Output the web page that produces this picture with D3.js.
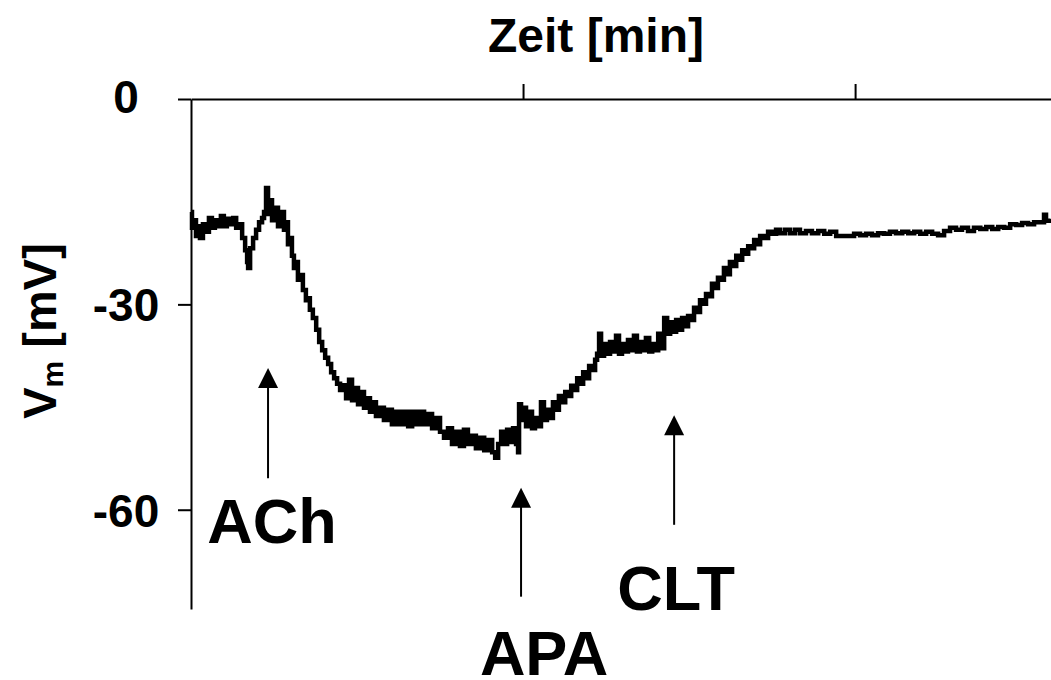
<!DOCTYPE html>
<meta charset="utf-8">
<style>
  body { margin: 0; background: #fff; }
  svg text { font-family: Arial, "Liberation Sans", sans-serif; font-weight: bold; fill: #000; }
  .axis path, .axis line { stroke: #000; stroke-width: 2; }
  .trace { fill: none; stroke: #000; stroke-width: 4.5; stroke-linejoin: miter; }
</style>
<body>
<div id="chart"></div>
<script src="https://d3js.org/d3.v7.min.js"></script>
<script>
// recording, time in min, membrane potential in mV
var time = [0, 0.03, 0.09, 0.15, 0.21, 0.27, 0.36, 0.45, 0.54, 0.63, 0.72, 0.81, 0.90, 0.99, 1.08, 1.17, 1.27, 1.36, 1.45, 1.54,
  1.63, 1.69, 1.72, 1.78, 1.87, 1.96, 2.05, 2.14, 2.20, 2.26, 2.32, 2.38, 2.44, 2.53, 2.62, 2.71, 2.80, 2.86, 2.92, 2.98,
  3.04, 3.10, 3.16, 3.22, 3.28, 3.37, 3.46, 3.52, 3.58, 3.67, 3.77, 3.86, 3.95, 4.04, 4.13, 4.22, 4.31, 4.40, 4.49, 4.58,
  4.67, 4.76, 4.85, 4.94, 5.03, 5.12, 5.21, 5.30, 5.39, 5.48, 5.57, 5.69, 5.81, 5.93, 6.05, 6.17, 6.30, 6.42, 6.54, 6.66,
  6.78, 6.90, 7.02, 7.14, 7.26, 7.38, 7.50, 7.62, 7.74, 7.86, 7.98, 8.10, 8.22, 8.34, 8.46, 8.58, 8.70, 8.83, 8.95, 9.07,
  9.16, 9.25, 9.34, 9.43, 9.52, 9.61, 9.70, 9.79, 9.85, 9.88, 9.94, 10.00, 10.09, 10.18, 10.27, 10.36, 10.45, 10.54, 10.63, 10.72,
  10.81, 10.90, 10.99, 11.08, 11.17, 11.27, 11.36, 11.45, 11.54, 11.63, 11.72, 11.81, 11.90, 11.99, 12.08, 12.17, 12.23, 12.29, 12.35, 12.44,
  12.53, 12.62, 12.71, 12.80, 12.89, 12.98, 13.07, 13.16, 13.25, 13.34, 13.43, 13.52, 13.61, 13.70, 13.80, 13.89, 13.98, 14.07, 14.16, 14.25,
  14.34, 14.43, 14.52, 14.61, 14.70, 14.79, 14.88, 14.97, 15.06, 15.15, 15.24, 15.33, 15.42, 15.51, 15.60, 15.69, 15.78, 15.87, 15.96, 16.05,
  16.14, 16.23, 16.33, 16.42, 16.51, 16.60, 16.69, 16.78, 16.87, 16.96, 17.05, 17.14, 17.26, 17.38, 17.50, 17.62, 17.74, 17.89, 18.04, 18.19,
  18.34, 18.52, 18.70, 18.89, 19.07, 19.25, 19.43, 19.61, 19.79, 19.97, 20.15, 20.33, 20.51, 20.69, 20.87, 21.05, 21.23, 21.42, 21.60, 21.78,
  21.96, 22.14, 22.32, 22.50, 22.68, 22.86, 23.04, 23.22, 23.40, 23.58, 23.77, 23.95, 24.13, 24.31, 24.49, 24.67, 24.85, 25.03, 25.21, 25.39,
  25.57, 25.69, 25.75, 25.87];
var vm = [-16.5, -18.8, -17.7, -20.0, -18.6, -20.3, -18.3, -19.4, -17.4, -18.8, -17.7, -18.6, -17.1, -18.6, -17.5, -18.3, -17.4, -18.8, -18.3, -20.3,
  -22.1, -23.8, -24.7, -21.8, -20.3, -19.1, -18.0, -17.4, -16.5, -13.0, -16.8, -14.8, -17.7, -15.9, -18.6, -16.5, -19.1, -18.0, -21.2, -20.3,
  -22.9, -24.7, -23.8, -26.4, -25.7, -27.9, -29.4, -29.1, -30.8, -32.0, -33.7, -35.5, -36.7, -37.8, -38.7, -39.9, -40.8, -41.6, -42.5, -41.8,
  -43.7, -41.0, -44.0, -42.2, -44.6, -42.8, -45.1, -43.7, -45.7, -44.3, -46.3, -45.1, -46.9, -45.4, -47.5, -45.7, -47.5, -45.7, -47.8, -45.7,
  -47.5, -45.7, -47.5, -46.0, -48.1, -46.6, -48.6, -49.5, -48.1, -50.4, -48.6, -50.7, -48.3, -50.4, -49.2, -51.0, -49.5, -51.3, -49.8, -51.6,
  -52.4, -50.4, -48.6, -50.4, -48.3, -50.1, -48.1, -50.4, -51.6, -44.6, -46.9, -45.1, -47.8, -45.7, -48.1, -46.6, -47.8, -44.3, -46.9, -45.4,
  -46.6, -44.3, -45.4, -43.4, -44.3, -42.8, -43.4, -41.9, -42.5, -40.8, -41.6, -39.9, -40.8, -39.0, -39.6, -38.1, -37.2, -34.3, -37.5, -35.8,
  -37.2, -35.5, -36.9, -34.6, -37.2, -35.8, -36.9, -35.2, -36.7, -34.6, -36.9, -35.5, -36.7, -34.9, -36.9, -35.8, -36.7, -34.3, -36.4, -32.0,
  -34.3, -32.6, -34.0, -32.3, -33.7, -32.0, -33.2, -31.7, -32.3, -30.5, -31.1, -29.4, -29.9, -28.5, -28.8, -27.0, -27.6, -26.1, -26.4, -24.7,
  -25.6, -23.8, -24.4, -22.9, -23.5, -22.1, -22.6, -21.5, -21.8, -20.6, -21.2, -20.0, -20.3, -19.4, -19.7, -19.1, -19.6, -19.1, -19.6, -19.1,
  -19.6, -19.3, -19.6, -19.3, -19.7, -19.4, -20.0, -20.0, -20.0, -19.7, -19.9, -19.7, -19.9, -19.6, -19.7, -19.4, -19.6, -19.4, -19.6, -19.4,
  -19.7, -19.4, -19.7, -19.9, -19.3, -18.8, -19.1, -18.8, -19.3, -18.8, -19.0, -18.7, -19.0, -18.7, -18.8, -18.3, -18.4, -18.1, -18.3, -18.0,
  -18.0, -16.9, -17.8, -17.5];

// axis ticks
var yTicks = [0, -30, -60];
var xTicks = [10, 20];

// drug applications: name, time of application, arrow tip and tail (mV)
var drugs = ["ACh", "APA", "CLT"];
var drugTime = [2.32, 9.94, 14.55];
var arrowTip = [-39.3, -56.8, -46.2];
var arrowTail = [-55.4, -72.7, -62.2];

var width = 1051,
    height = 680;

var x = d3.scaleLinear().domain([0, 25.9]).range([191, 1051]);
var y = d3.scaleLinear().domain([-74.5, 0]).range([609, 99]);

var svg = d3.select("#chart").append("svg")
    .attr("width", width)
    .attr("height", height);

// x axis on top, ticks pointing up, no labels
svg.append("g")
    .attr("class", "axis")
    .attr("transform", "translate(0," + y(0) + ")")
    .call(d3.axisTop(x).tickValues(xTicks).tickSize(15).tickSizeOuter(0).tickFormat(""));

// y axis (plain hyphen for the minus sign)
var yAxis = svg.append("g")
    .attr("class", "axis")
    .attr("transform", "translate(" + x(0) + ",0)")
    .call(d3.axisLeft(y).tickValues(yTicks).tickSize(13).tickSizeOuter(0)
      .tickFormat(function(d) { return String(d); }));
yAxis.selectAll(".tick text")
    .attr("x", -65)
    .attr("dy", "0.36em")
    .style("text-anchor", "middle")
    .style("font-size", "46px")
    .style("font-family", "Arial, 'Liberation Sans', sans-serif")
    .style("font-weight", "bold")
    .style("fill", "#000");
yAxis.select(".tick text").attr("dy", "0.3em");

svg.append("text")
    .attr("x", 596)
    .attr("y", 52)
    .attr("text-anchor", "middle")
    .style("font-size", "48px")
    .text("Zeit [min]");

var ylab = svg.append("text")
    .attr("transform", "translate(56,331) rotate(-90)")
    .attr("text-anchor", "middle")
    .style("font-size", "47px");
ylab.append("tspan").text("V");
ylab.append("tspan").attr("dy", 7).style("font-size", "30px").text("m");
ylab.append("tspan").attr("dy", -7).text(" [mV]");

// trace
var line = d3.line()
    .x(function(d, i) { return x(time[i]); })
    .y(function(d) { return y(d); })
    .curve(d3.curveStepAfter);

svg.append("path")
    .datum(vm)
    .attr("class", "trace")
    .attr("d", line);

// arrows and drug labels
var labelDx = [4, 23, 2],
    labelDy = [65, 78, 85];

drugs.forEach(function(name, i) {
  var ax = x(drugTime[i]),
      tip = y(arrowTip[i]),
      tail = y(arrowTail[i]);
  svg.append("line")
      .attr("x1", ax).attr("x2", ax)
      .attr("y1", tip + 18).attr("y2", tail)
      .attr("stroke", "#000")
      .attr("stroke-width", 2);
  svg.append("path")
      .attr("d", "M" + ax + "," + tip + "L" + (ax - 10) + "," + (tip + 20) + "L" + (ax + 10) + "," + (tip + 20) + "Z")
      .attr("fill", "#000");
  svg.append("text")
      .attr("x", ax + labelDx[i])
      .attr("y", tail + labelDy[i])
      .attr("text-anchor", "middle")
      .style("font-size", "63px")
      .text(name);
});
</script>
</body>
